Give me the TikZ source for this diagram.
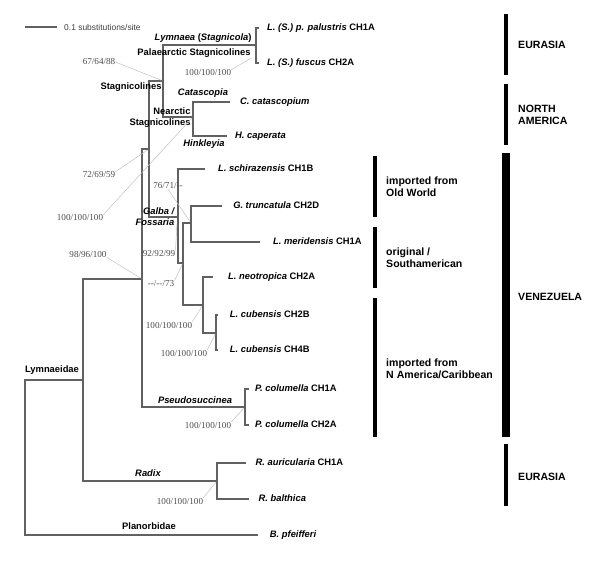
\documentclass[tikz,border=0pt]{standalone}
\usepackage{fontspec}
\setmainfont{Liberation Serif}
\setsansfont{Liberation Sans}
\usetikzlibrary{positioning,calc}

\begin{document}
\begin{tikzpicture}[
    x=0.03cm, y=-0.03cm,
    br/.style={draw=black!62, line width=1pt},
    lead/.style={draw=black!25, line width=0.4pt, shorten >=1.5pt},
    tip/.style={
        anchor=west,
        inner xsep=8pt,
        inner ysep=0pt,
        text height=6pt,
        text depth=1.8pt,
        font=\sffamily\bfseries\fontsize{8}{9.5}\selectfont
    },
    clade/.style={
        inner sep=0pt,
        align=center,
        font=\sffamily\bfseries\fontsize{8}{9.5}\selectfont
    },
    genus/.style={clade, font=\sffamily\bfseries\itshape\fontsize{8}{9.5}\selectfont},
    bs/.style={inner sep=0pt, text=black!70, font=\rmfamily\fontsize{7.8}{9}\selectfont},
    region/.style={
        anchor=west,
        inner sep=0pt,
        align=left,
        font=\sffamily\bfseries\fontsize{9}{10.5}\selectfont
    },
    bar/.style={line width=2.6pt},
    wbar/.style={line width=6.8pt}
]
\useasboundingbox (0,0) rectangle (600,560);

% scale
\coordinate (sc1) at (25,27);
\node[anchor=west, inner sep=0pt, text=black!75, font=\sffamily\fontsize{7.2}{8.5}\selectfont] (sclab) at (64,27) {0.1 substitutions/site};
\draw[br] (sc1) -- ++(32,0);

% internal nodes
\coordinate (root) at (25,458);
\coordinate (lymn) at (83,380);
\coordinate (radix) at (217,481);
\coordinate (core) at (142,279);
\coordinate (pseudo) at (245,407);
\coordinate (stgal) at (149,149);
\coordinate (stag) at (163,81);
\coordinate (pal) at (256,45);
\coordinate (nea) at (193,117);
\coordinate (galba) at (178,217);
\coordinate (galc) at (183,263);
\coordinate (trun) at (191,223);
\coordinate (neo) at (203,305);
\coordinate (cub) at (216,333);

% tips
\node[tip, inner xsep=6.8pt] (palu) at (259,28) {\textit{L. (S.) p. palustris} CH1A};
\node[tip, inner xsep=6.8pt] (fusc) at (259,63) {\textit{L. (S.) fuscus} CH2A};
\node[tip, inner xsep=8.5pt] (cata) at (230,102) {\textit{C. catascopium}};
\node[tip, inner xsep=6.8pt] (cape) at (227,136) {\textit{H. caperata}};
\node[tip, inner xsep=11pt] (schi) at (205,169) {\textit{L. schirazensis} CH1B};
\node[tip, inner xsep=9.4pt] (trunc) at (222,206) {\textit{G. truncatula} CH2D};
\node[tip, inner xsep=11pt] (meri) at (260,242) {\textit{L. meridensis} CH1A};
\node[tip, inner xsep=12.8pt] (neot) at (213,277) {\textit{L. neotropica} CH2A};
\node[tip, inner xsep=10pt] (cubb) at (218,315) {\textit{L. cubensis} CH2B};
\node[tip, inner xsep=10pt] (cubd) at (218,350) {\textit{L. cubensis} CH4B};
\node[tip, inner xsep=5pt] (colA) at (249,389) {\textit{P. columella} CH1A};
\node[tip, inner xsep=5pt] (colB) at (249,425) {\textit{P. columella} CH2A};
\node[tip] (auri) at (246,463) {\textit{R. auricularia} CH1A};
\node[tip] (balt) at (249,499) {\textit{R. balthica}};
\node[tip, inner xsep=10pt] (pfei) at (258,535) {\textit{B. pfeifferi}};

% branches
\draw[br] (root) |- (lymn);
\draw[br] (root) |- (pfei);
\draw[br] (lymn) |- (core);
\draw[br] (lymn) |- (radix);
\draw[br] (radix) |- (auri);
\draw[br] (radix) |- (balt);
\draw[br] (core) |- (stgal);
\draw[br] (core) |- (pseudo);
\draw[br] (pseudo) |- (colA);
\draw[br] (pseudo) |- (colB);
\draw[br] (stgal) |- (stag);
\draw[br] (stgal) |- (galba);
\draw[br] (stag) |- (pal);
\draw[br] (stag) |- (nea);
\draw[br] (pal) |- (palu);
\draw[br] (pal) |- (fusc);
\draw[br] (nea) |- (cata);
\draw[br] (nea) |- (cape);
\draw[br] (galba) |- (schi);
\draw[br] (galba) |- (galc);
\draw[br] (galc) |- (trun);
\draw[br] (galc) |- (neo);
\draw[br] (trun) |- (trunc);
\draw[br] (trun) |- (meri);
\draw[br] (neo) |- (neot);
\draw[br] (neo) |- (cub);
\draw[br] (cub) |- (cubb);
\draw[br] (cub) |- (cubd);

% clade labels
\node[clade] (lymnlab) at (52,370) {Lymnaeidae};
\node[clade] (planlab) at (149,526) {Planorbidae};
\node[genus] (radlab) at (148,473) {Radix};
\node[genus] (pslab) at (195,400) {Pseudosuccinea};
\node[genus, align=right] (gflab) at (155,217) {Galba /\\Fossaria};
\node[clade] (stlab) at (131,87) {Stagnicolines};
\node[clade] (lslab) at (203,38) {\textit{Lymnaea} (\textit{Stagnicola})};
\node[clade] (palab) at (194,53) {Palaearctic Stagnicolines};
\node[genus] (catlab) at (203,93) {Catascopia};
\node[clade, align=right] (nealab) at (160,118) {Nearctic\\Stagnicolines};
\node[genus] (hinlab) at (204,144) {Hinkleyia};

% support values
\node[bs] (b1) at (99,62) {67/64/88};
\node[bs] (b2) at (208,73) {100/100/100};
\node[bs] (b3) at (99,175) {72/69/59};
\node[bs] (b4) at (80,218) {100/100/100};
\node[bs] (b5) at (88,254) {98/96/100};
\node[bs] (b6) at (168,186) {76/71/{-}{-}};
\node[bs] (b7) at (159,254) {92/92/99};
\node[bs] (b8) at (161,284) {{-}{-}/{-}{-}/73};
\node[bs] (b9) at (169,325) {100/100/100};
\node[bs] (b10) at (184,353) {100/100/100};
\node[bs] (b11) at (208,425) {100/100/100};
\node[bs] (b12) at (180,501) {100/100/100};

\draw[lead] (b1.east) -- (stag);
\draw[lead] (b2.north east) -- ([shift={(-3,12)}]pal);
\draw[lead] (b3.north east) -- (stgal);
\draw[lead] (b4.north east) -- (nea);
\draw[lead] (b5.south east) -- (core);
\draw[lead] (b6.south) -- (trun);
\draw[lead] (b7.north east) -- ([shift={(-1,5)}]galba);
\draw[lead] (b8.north east) -- (galc);
\draw[lead] (b9.north east) -- (neo);
\draw[lead] (b10.north east) -- (cub);
\draw[lead] (b11.north east) -- (pseudo);
\draw[lead] (b12.north east) -- (radix);

% distribution bars
\draw[bar] (506,14) -- (506,75);
\draw[bar] (506,84) -- (506,145);
\draw[wbar] (506,153) -- (506,437);
\draw[bar] (506,444) -- (506,506);
\draw[bar] (375,156) -- (375,217);
\draw[bar] (375,227) -- (375,288);
\draw[bar] (375,298) -- (375,437);

\node[region] (eur1) at (518,45) {EURASIA};
\node[region] (nam) at (518,115) {NORTH\\AMERICA};
\node[region] (ven) at (518,297) {VENEZUELA};
\node[region] (eur2) at (518,477) {EURASIA};
\node[region] (oldw) at (386,187) {imported from\\Old World};
\node[region] (orig) at (386,257.5) {original /\\Southamerican};
\node[region] (namc) at (386,368.5) {imported from\\N America/Caribbean};

\end{tikzpicture}
\end{document}
